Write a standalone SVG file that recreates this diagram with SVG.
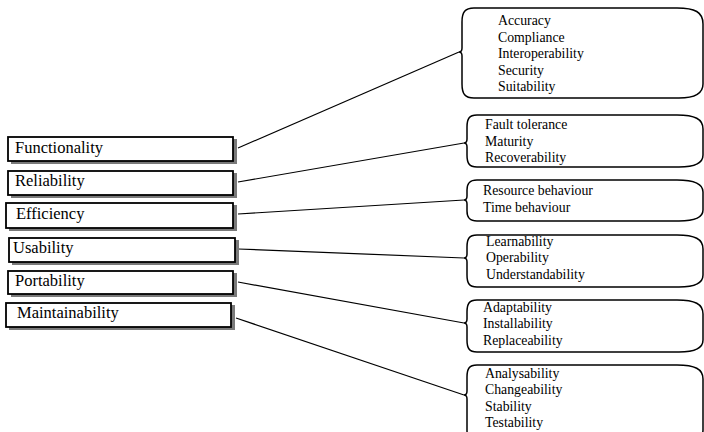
<svg xmlns="http://www.w3.org/2000/svg" width="704" height="432" viewBox="0 0 704 432">
<style>
.sh{fill:#7a7a7a;stroke:none}
.bx{fill:#fff;stroke:#000;stroke-width:1.8}
.lt{font-size:16.5px;fill:#000}
.rb{fill:#fff;stroke:#000;stroke-width:1.5}
.rt{font-size:13.8px;fill:#000}
.cn{stroke:#000;stroke-width:1.2;fill:none}
</style>
<rect width="704" height="432" fill="#fff"/>
<g id="connectors">
<line class="cn" x1="238" y1="148" x2="459" y2="52"/>
<line class="cn" x1="238" y1="182" x2="464" y2="143"/>
<line class="cn" x1="238" y1="214" x2="464" y2="200"/>
<line class="cn" x1="238" y1="249" x2="464" y2="258"/>
<line class="cn" x1="238" y1="282" x2="464" y2="323"/>
<line class="cn" x1="236" y1="318" x2="464" y2="395"/>
</g>
<g font-family="'Liberation Serif', 'DejaVu Serif', serif">
<g id="functionality"><rect class="sh" x="11" y="139" width="226" height="25"/><rect class="bx" x="8" y="137" width="225" height="24"/><text class="lt" x="15" y="153">Functionality</text></g>
<g id="reliability"><rect class="sh" x="11" y="173" width="226" height="25"/><rect class="bx" x="8" y="171" width="225" height="24"/><text class="lt" x="15" y="186">Reliability</text></g>
<g id="efficiency"><rect class="sh" x="9" y="205" width="228" height="26"/><rect class="bx" x="6" y="203" width="227" height="25"/><text class="lt" x="16" y="219">Efficiency</text></g>
<g id="usability"><rect class="sh" x="12" y="240" width="227" height="25"/><rect class="bx" x="9" y="238" width="226" height="24"/><text class="lt" x="13" y="253">Usability</text></g>
<g id="portability"><rect class="sh" x="11" y="273" width="226" height="24"/><rect class="bx" x="8" y="271" width="225" height="23"/><text class="lt" x="15" y="286">Portability</text></g>
<g id="maintainability"><rect class="sh" x="9" y="305" width="226" height="25"/><rect class="bx" x="6" y="303" width="225" height="24"/><text class="lt" x="17" y="318">Maintainability</text></g>

<g id="functionality-sub">
<path class="rb" d="M474,8 L677,8 C695,8 703,12 703,24 L703,84 C703,94 695,98 679,98 L474,98 C465,98 462,94 462,84 L462,56 C462,53 461,52 459,52 C461,52 462,51 462,48 L462,22 C462,12 465,8 474,8 Z"/>
<text class="rt" x="498" y="25">Accuracy</text>
<text class="rt" x="498" y="41.5">Compliance</text>
<text class="rt" x="498" y="58">Interoperability</text>
<text class="rt" x="498" y="74.5">Security</text>
<text class="rt" x="498" y="91">Suitability</text>
</g>
<g id="reliability-sub">
<path class="rb" d="M477,115 L677,115 C695,115 703,119 703,129 L703,155 C703,163 695,167 679,167 L477,167 C469,167 467,163 467,155 L467,147 C467,144 466,143 464,143 C466,143 467,142 467,139 L467,127 C467,119 469,115 477,115 Z"/>
<text class="rt" x="485" y="129">Fault tolerance</text>
<text class="rt" x="485" y="145.5">Maturity</text>
<text class="rt" x="485" y="162">Recoverability</text>
</g>
<g id="efficiency-sub">
<path class="rb" d="M477,180 L677,180 C695,180 703,184 703,192 L703,210 C703,217 695,221 679,221 L477,221 C469,221 467,217 467,211 L467,204 C467,201 466,200 464,200 C466,200 467,199 467,196 L467,190 C467,184 469,180 477,180 Z"/>
<text class="rt" x="483" y="195">Resource behaviour</text>
<text class="rt" x="483" y="211.5">Time behaviour</text>
</g>
<g id="usability-sub">
<path class="rb" d="M477,235 L677,235 C695,235 703,239 703,249 L703,275 C703,283 695,287 679,287 L477,287 C469,287 467,283 467,275 L467,262 C467,259 466,258 464,258 C466,258 467,257 467,254 L467,247 C467,239 469,235 477,235 Z"/>
<text class="rt" x="486" y="245.5">Learnability</text>
<text class="rt" x="486" y="262">Operability</text>
<text class="rt" x="486" y="278.5">Understandability</text>
</g>
<g id="portability-sub">
<path class="rb" d="M477,300 L677,300 C695,300 703,304 703,314 L703,340 C703,348 695,352 679,352 L477,352 C469,352 467,348 467,340 L467,327 C467,324 466,323 464,323 C466,323 467,322 467,319 L467,312 C467,304 469,300 477,300 Z"/>
<text class="rt" x="483" y="311.5">Adaptability</text>
<text class="rt" x="483" y="328">Installability</text>
<text class="rt" x="483" y="344.5">Replaceability</text>
</g>
<g id="maintainability-sub">
<path class="rb" d="M477,365 L677,365 C695,365 703,369 703,379 L703,430 C703,438 695,442 679,442 L477,442 C469,442 467,438 467,430 L467,399 C467,396 466,395 464,395 C466,395 467,394 467,391 L467,377 C467,369 469,365 477,365 Z"/>
<text class="rt" x="485" y="377.5">Analysability</text>
<text class="rt" x="485" y="394">Changeability</text>
<text class="rt" x="485" y="410.5">Stability</text>
<text class="rt" x="485" y="427">Testability</text>
</g>
</g>
</svg>
